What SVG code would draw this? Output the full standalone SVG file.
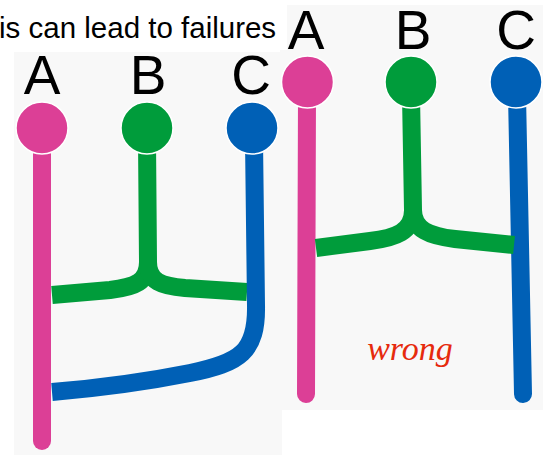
<svg xmlns="http://www.w3.org/2000/svg" width="550" height="455" viewBox="0 0 550 455">
<style>
.panel{fill:#f8f8f8}
.lbl{font-family:"Liberation Sans",Arial,sans-serif;font-size:55px;fill:#000;text-anchor:middle}
.ln{fill:none;stroke-width:18;stroke-linecap:round;stroke-linejoin:round}
.butt{stroke-linecap:butt}
.pink{stroke:#dc3f96}
.green{stroke:#009c3b}
.blue{stroke:#0060b6}
.dot{stroke:#ffffff;stroke-width:1.5}
</style>
<rect class="panel" x="14" y="52" width="268" height="403"/>
<rect class="panel" x="280" y="5" width="263" height="405"/>
<rect x="0" y="0" width="287" height="50" fill="#ffffff"/>
<text x="-1" y="37.5" font-family="'Liberation Sans',Arial,sans-serif" font-size="29.5" fill="#000">is can lead to failures</text>

<g id="connectors">
  <!-- left panel -->
  <path class="ln pink" d="M42,140 L42,441"/>
  <path class="ln green butt" d="M147,140 L148,262 C148,282 135,287 110,290 L52,295"/>
  <path class="ln green butt" d="M148,262 C148,282 162,286 185,288 L247,292"/>
  <path class="ln blue butt" d="M254,140 L256,305 C257,352 240,363 190,373 C150,381 100,388 52,392"/>
  <!-- right panel -->
  <path class="ln pink" d="M307,95 L306,394"/>
  <path class="ln blue" d="M517,95 L523,394"/>
  <path class="ln green butt" d="M411,95 L413,210 C413,232 395,238 370,241 L316,248"/>
  <path class="ln green butt" d="M413,210 C413,230 430,236 455,239 L514,245"/>
</g>

<g id="left-A"><text class="lbl" x="42" y="94">A</text><circle class="dot" cx="42" cy="128" r="26" fill="#dc3f96"/></g>
<g id="left-B"><text class="lbl" x="148" y="94">B</text><circle class="dot" cx="147" cy="128" r="26" fill="#009c3b"/></g>
<g id="left-C"><text class="lbl" x="251" y="94">C</text><circle class="dot" cx="252" cy="128" r="26" fill="#0060b6"/></g>

<g id="right-A"><text class="lbl" x="306" y="48.5">A</text><circle class="dot" cx="307.5" cy="82" r="26" fill="#dc3f96"/></g>
<g id="right-B"><text class="lbl" x="413" y="48.5">B</text><circle class="dot" cx="411" cy="82" r="26" fill="#009c3b"/></g>
<g id="right-C"><text class="lbl" x="516" y="48.5">C</text><circle class="dot" cx="516" cy="82" r="26" fill="#0060b6"/></g>

<text x="410" y="360" font-family="'Liberation Serif','Times New Roman',serif" font-style="italic" font-size="34" fill="#e62a0d" text-anchor="middle">wrong</text>
</svg>
